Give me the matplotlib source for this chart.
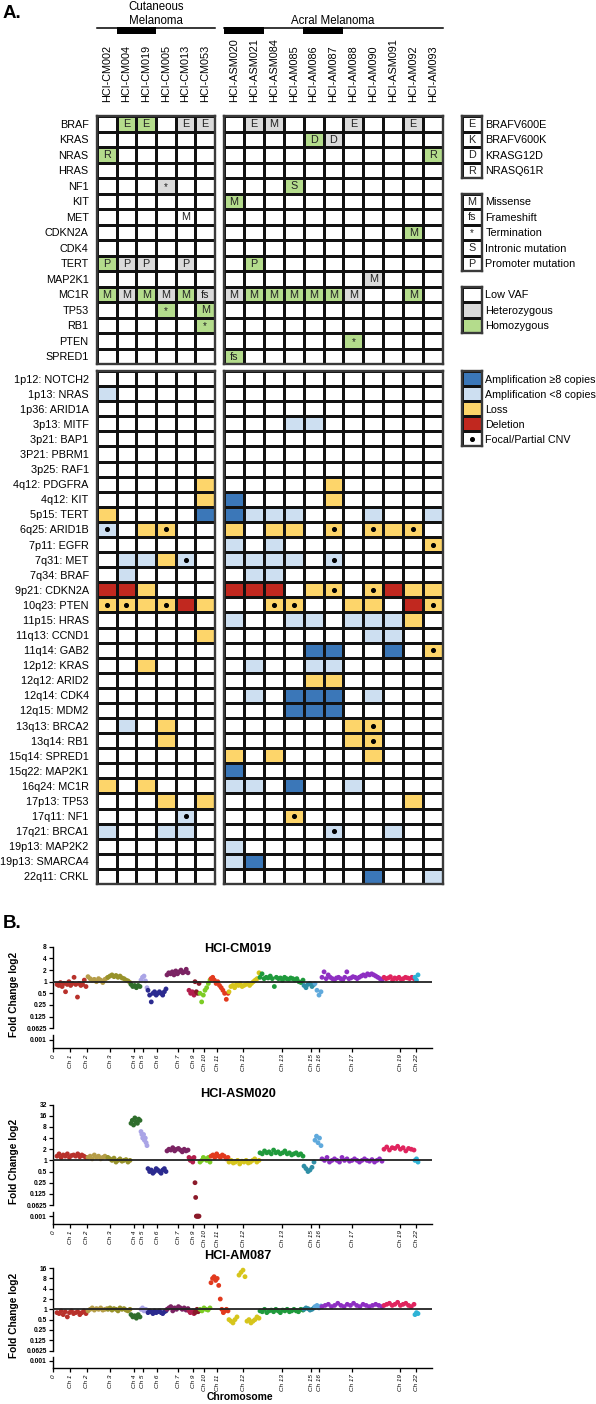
import numpy as np
import matplotlib
matplotlib.use("Agg")
import matplotlib.pyplot as plt
from matplotlib.colors import ListedColormap

plt.rcParams['font.family'] = ['Liberation Sans', 'DejaVu Sans']

# ---------------- data: panel A ----------------
samples_cut = ["HCI-CM002", "HCI-CM004", "HCI-CM019", "HCI-CM005", "HCI-CM013", "HCI-CM053"]
samples_acral = ["HCI-ASM020", "HCI-ASM021", "HCI-ASM084", "HCI-AM085", "HCI-AM086", "HCI-AM087",
                 "HCI-AM088", "HCI-AM090", "HCI-ASM091", "HCI-AM092", "HCI-AM093"]

genes = ["BRAF", "KRAS", "NRAS", "HRAS", "NF1", "KIT", "MET", "CDKN2A", "CDK4", "TERT",
         "MAP2K1", "MC1R", "TP53", "RB1", "PTEN", "SPRED1"]

# mutation letter per gene (rows) and sample (17 columns: 6 cutaneous + 11 acral); '.' = none
mut_letters = [
    ". E E . E E  . E M . . . E . . E .",
    ". . . . . .  . . . . D D . . . . .",
    "R . . . . .  . . . . . . . . . . R",
    ". . . . . .  . . . . . . . . . . .",
    ". . . * . .  . . . S . . . . . . .",
    ". . . . . .  M . . . . . . . . . .",
    ". . . . M .  . . . . . . . . . . .",
    ". . . . . .  . . . . . . . . . M .",
    ". . . . . .  . . . . . . . . . . .",
    "P P P . P .  . P . . . . . . . . .",
    ". . . . . .  . . . . . . . M . . .",
    "M M M M M fs M M M M M M M . . M .",
    ". . . * . M  . . . . . . . . . . .",
    ". . . . . *  . . . . . . . . . . .",
    ". . . . . .  . . . . . . * . . . .",
    ". . . . . .  fs . . . . . . . . . .",
]
# zygosity: 0 = low VAF (white), 1 = heterozygous, 2 = homozygous
mut_zygosity = [
    "0 2 2 0 1 1  0 1 1 0 0 0 1 0 0 1 0",
    "0 0 0 0 0 0  0 0 0 0 2 1 0 0 0 0 0",
    "2 0 0 0 0 0  0 0 0 0 0 0 0 0 0 0 2",
    "0 0 0 0 0 0  0 0 0 0 0 0 0 0 0 0 0",
    "0 0 0 1 0 0  0 0 0 2 0 0 0 0 0 0 0",
    "0 0 0 0 0 0  2 0 0 0 0 0 0 0 0 0 0",
    "0 0 0 0 0 0  0 0 0 0 0 0 0 0 0 0 0",
    "0 0 0 0 0 0  0 0 0 0 0 0 0 0 0 2 0",
    "0 0 0 0 0 0  0 0 0 0 0 0 0 0 0 0 0",
    "2 1 1 0 1 0  0 2 0 0 0 0 0 0 0 0 0",
    "0 0 0 0 0 0  0 0 0 0 0 0 0 1 0 0 0",
    "2 1 2 1 2 1  1 2 2 2 2 2 1 0 0 2 0",
    "0 0 0 2 0 2  0 0 0 0 0 0 0 0 0 0 0",
    "0 0 0 0 0 2  0 0 0 0 0 0 0 0 0 0 0",
    "0 0 0 0 0 0  0 0 0 0 0 0 2 0 0 0 0",
    "0 0 0 0 0 0  2 0 0 0 0 0 0 0 0 0 0",
]

cnv_regions = ["1p12: NOTCH2", "1p13: NRAS", "1p36: ARID1A", "3p13: MITF", "3p21: BAP1", "3P21: PBRM1",
               "3p25: RAF1", "4q12: PDGFRA", "4q12: KIT", "5p15: TERT", "6q25: ARID1B", "7p11: EGFR",
               "7q31: MET", "7q34: BRAF", "9p21: CDKN2A", "10q23: PTEN", "11p15: HRAS", "11q13: CCND1",
               "11q14: GAB2", "12p12: KRAS", "12q12: ARID2", "12q14: CDK4", "12q15: MDM2", "13q13: BRCA2",
               "13q14: RB1", "15q14: SPRED1", "15q22: MAP2K1", "16q24: MC1R", "17p13: TP53", "17q11: NF1",
               "17q21: BRCA1", "19p13: MAP2K2", "19p13: SMARCA4", "22q11: CRKL"]
# A = amplification >=8 copies, a = amplification <8, L = loss, D = deletion, * = focal/partial
cnv_calls = [
    ". . . . . .        . . . . . . . . . . .",
    "a . . . . .        . . . . . . . . . . .",
    ". . . . . .        . . . . . . . . . . .",
    ". . . . . .        . . . a a . . . . . .",
    ". . . . . .        . . . . . . . . . . .",
    ". . . . . .        . . . . . . . . . . .",
    ". . . . . .        . . . . . . . . . . .",
    ". . . . . L        . . . . . L . . . . .",
    ". . . . . L        A . . . . L . . . . .",
    "L . . . . A        A a a a . . . a . . a",
    "a* . L L* . .      L . L L . L* . L* L L* .",
    ". . . . . .        a . a . . . . . . . L*",
    ". a a L a* .       a a a a . a* . . . . .",
    ". a . . . .        . a a . . . . . . . .",
    "D D L . . .        D D D . L L* . L* D L L",
    "L* L* L L* D L     . . L* L* . . L L . D L*",
    ". . . . . .        a . . a a . a a a L .",
    ". . . . . L        . . . . . . . a a . .",
    ". . . . . .        . . . . A A . . A . L*",
    ". . L . . .        . a . . a a . . . . .",
    ". . . . . .        . . . . L L . . . . .",
    ". . . . . .        . a . A A A . a . . .",
    ". . . . . .        . . . A A A . . . . .",
    ". a . L . .        . . . . . . L L* . . .",
    ". . . L . .        . . . . . . L L* . . .",
    ". . . . . .        L . L . . . . L . . .",
    ". . . . . .        A . . . . . . . . . .",
    "L . L . . .        a a . A . . a . . . .",
    ". . . L . L        . . . . . . . . . L .",
    ". . . . a* .       . . . L* . . . . . . .",
    "a . . a a .        . . . . . a* . . a . .",
    ". . . . . .        a . . . . . . . . . .",
    ". . . . . .        a A . . . . . . . . .",
    ". . . . . .        . . . . . . . A . . a",
]

legend_variants = [("E", "BRAFV600E"), ("K", "BRAFV600K"), ("D", "KRASG12D"), ("R", "NRASQ61R")]
legend_types = [("M", "Missense"), ("fs", "Frameshift"), ("*", "Termination"),
                ("S", "Intronic mutation"), ("P", "Promoter mutation")]
legend_zyg = ["Low VAF", "Heterozygous", "Homozygous"]
legend_cnv = ["Amplification \u22658 copies", "Amplification <8 copies", "Loss", "Deletion", "Focal/Partial CNV"]

# ---------------- data: panel B ----------------
chrom_names = ["1", "2", "3", "4", "5", "6", "7", "8", "9", "10", "11", "12", "13", "15", "16", "17", "19", "22"]
chrom_tick_labels = ["0", "Ch 1", "Ch 2", "Ch 3", "Ch 4", "Ch 5", "Ch 6", "Ch 7", "Ch 9", "Ch 10", "Ch 11",
                     "Ch 12", "Ch 13", "Ch 15", "Ch 16", "Ch 17", "Ch 19", "Ch 22"]
fold_ticks = [32, 16, 8, 4, 2, 1, 0.5, 0.25, 0.125, 0.0625, 0.001]

cm019_fc = [
    [0.85, 0.8, 0.95, 0.75, 0.9, 0.55, 0.85, 1.0, 0.8, 0.9, 1.3, 0.85, 0.4, 0.9, 0.8, 0.85, 1.1, 0.75],
    [1.35, 1.2, 1.1, 1.15, 1.0, 1.2, 1.1, 0.95, 1.15, 1.25],
    [1.3, 1.4, 1.5, 1.35, 1.45, 1.3, 1.4, 1.25, 1.2, 1.1, 1.05, 0.95],
    [0.85, 0.75, 0.8, 0.7, 0.8, 0.75],
    [1.1, 1.3, 1.4, 1.05, 0.7],
    [0.6, 0.45, 0.3, 0.5, 0.55, 0.45, 0.5, 0.55, 0.5, 0.45, 0.55, 0.65],
    [1.5, 1.7, 1.6, 1.8, 1.5, 1.9, 1.6, 1.8, 2.0, 1.7, 1.8, 2.1, 1.7],
    [0.6, 0.5, 0.55, 0.45],
    [1.0, 0.55, 0.5, 0.9],
    [0.5, 0.3, 0.45, 0.6, 0.7, 0.9, 1.1],
    [1.2, 1.3, 1.1, 0.9, 1.0, 0.8, 0.7, 0.6, 0.5, 0.35, 0.5],
    [0.55, 0.75, 0.8, 0.7, 0.85, 0.8, 0.9, 0.75, 0.8, 0.85, 0.9, 0.8, 0.9, 1.0, 1.1, 1.2, 1.7],
    [1.3, 1.6, 1.2, 1.3, 1.25, 1.4, 1.2, 0.75, 1.3, 1.2, 1.25, 1.1, 1.3, 1.2, 1.15, 1.25, 1.2, 1.1, 1.2, 1.0, 0.95, 1.1],
    [0.8, 0.7, 0.85, 0.9, 0.75, 0.85],
    [0.9, 0.6, 0.45, 0.55],
    [1.3, 1.8, 1.2, 1.5, 1.3, 1.2, 1.1, 1.25, 1.3, 1.2, 1.1, 1.3, 1.8, 1.2, 1.25, 1.35, 1.3, 1.2, 1.3, 1.4,
     1.5, 1.4, 1.6, 1.5, 1.6, 1.5, 1.4, 1.3, 1.2, 1.1],
    [1.3, 1.2, 1.25, 1.35, 1.1, 1.25, 1.2, 1.3, 1.15, 1.2, 1.3, 1.25, 1.2, 1.3, 1.2],
    [1.3, 1.1, 1.5],
]
asm020_fc = [
    [1.3, 1.5, 1.2, 1.4, 1.3, 1.5, 1.2, 1.35, 1.4, 1.3, 1.5, 1.25, 1.4, 1.3, 1.2],
    [1.2, 1.3, 1.1, 1.4, 1.2, 1.3, 1.1, 1.2, 1.3, 1.2],
    [1.2, 1.1, 1.0, 1.15, 0.9, 1.0, 1.1, 0.95, 1.0, 1.05, 0.9, 1.0],
    [10, 12, 9, 14, 11, 10, 13, 12],
    [6, 5, 4, 5, 3.5, 4, 3, 2.5],
    [0.6, 0.5, 0.55, 0.45, 0.5, 0.6, 0.55, 0.5, 0.45, 0.55, 0.6, 0.5],
    [1.8, 2.0, 1.9, 2.2, 1.8, 2.0, 2.1, 1.9, 1.7, 2.0, 1.8, 1.9],
    [1.2, 1.0, 1.1, 0.9, 1.2],
    [0.25, 0.1, 0.001, 0.001, 0.001, 0.001, 0.001],
    [0.9, 1.0, 1.2, 1.1, 1.0, 1.2, 0.9],
    [1.3, 1.4, 1.2, 1.5, 1.3, 1.2, 1.4, 1.3, 1.1, 1.2],
    [0.9, 1.0, 0.85, 0.9, 1.0, 0.8, 0.95, 0.9, 1.0, 0.85, 0.9, 1.0, 1.1, 0.9, 1.0],
    [1.6, 1.5, 1.8, 1.6, 1.7, 1.5, 1.9, 1.6, 1.7, 1.5, 1.6, 1.8, 1.5, 1.6, 1.4, 1.5, 1.6, 1.4, 1.5, 1.3],
    [0.7, 0.6, 0.5, 0.55, 0.65, 0.9],
    [3.5, 4.5, 3.0, 4.0, 2.5],
    [1.1, 1.0, 1.2, 0.9, 1.0, 1.1, 1.0, 0.9, 1.2, 1.0, 1.1, 0.95, 1.0, 1.1, 1.0, 0.9, 1.0, 1.1, 1.0, 0.95,
     1.05, 0.9, 1.0, 1.1, 0.95],
    [2.0, 2.3, 1.9, 2.2, 2.1, 2.4, 2.0, 2.2, 1.8, 2.1, 2.0, 1.9],
    [1.0, 1.1, 0.9],
]
am087_fc = [
    [0.8, 0.75, 0.9, 0.7, 0.85, 0.6, 0.8, 0.9, 0.75, 0.8, 0.85, 0.7, 0.8, 0.9, 0.75],
    [0.9, 1.0, 1.1, 0.95, 1.05, 1.0, 1.1, 0.95, 1.0, 1.05],
    [1.0, 1.1, 0.95, 1.05, 1.0, 0.9, 1.1, 1.0, 1.05, 0.95, 0.9, 1.0],
    [0.7, 0.6, 0.65, 0.55, 0.7, 0.6],
    [1.0, 1.1, 0.9, 1.0, 0.95],
    [0.8, 0.9, 0.85, 0.75, 0.9, 0.8, 0.85, 0.9, 0.8, 0.75, 0.85, 0.9],
    [1.0, 1.1, 1.2, 0.9, 1.1, 1.0, 1.2, 1.1, 1.0, 1.1, 0.95, 1.05],
    [0.9, 0.8, 0.85, 0.9, 0.75],
    [0.8, 0.9, 1.0, 0.85, 0.9],
    [1.0, 0.9, 1.1, 1.0, 0.95, 1.1],
    [6, 8, 9, 7, 8, 5, 2, 1.0, 0.8, 0.9, 1.0, 0.9],
    [0.5, 0.45, 0.4, 0.5, 0.6, 10, 12, 14, 9, 0.45, 0.5, 0.4, 0.45, 0.5, 0.6, 0.55],
    [0.9, 0.85, 1.0, 0.8, 0.9, 0.95, 0.85, 1.0, 0.9, 0.8, 0.95, 0.9, 1.0, 0.85, 0.9, 1.0, 0.9, 0.85, 1.0, 0.95],
    [1.0, 1.1, 1.05, 0.95, 1.0, 1.1],
    [1.2, 1.3, 1.1, 1.25],
    [1.2, 1.3, 1.4, 1.2, 1.3, 1.5, 1.3, 1.2, 1.4, 1.3, 1.5, 1.3, 1.2, 1.4, 1.3, 1.2, 1.3, 1.4, 1.3, 1.2],
    [1.3, 1.4, 1.5, 1.3, 1.4, 1.6, 1.3, 1.4, 1.5, 1.3, 1.2, 1.4],
    [0.7, 0.8, 0.75],
]

# ---------------- styles / layout ----------------
W, H = 596, 1404
GREEN, GRAY = "#b4dc8c", "#dadada"
DBLUE, LBLUE, YELLOW, RED = "#3b77b8", "#cddff1", "#fdd56a", "#c1281f"
chrom_colors = ["#b8312b", "#b59d48", "#97922a", "#2f6e2c", "#aaa4e6", "#2b2a8f", "#7b2363", "#b21e4d",
                "#8b1a2a", "#7ccc24", "#e23a1e", "#d6c51c", "#1f9a3c", "#2f8fa6", "#5fa9dc", "#8e2fc2",
                "#e0245e", "#2fb3d6"]
chrom_span = [(4, 33), (35, 54), (55, 77), (78, 87), (88, 94), (95, 113), (114, 135), (136, 141), (142, 146),
              (147, 157), (158, 175), (176, 206), (207, 250), (251, 261), (262, 268), (269, 329), (331, 361),
              (362, 365)]
chrom_tick_pos = [0, 17, 34, 57, 81, 90, 104, 125, 140, 151, 164, 190, 229, 258, 266, 299, 347, 363]

fig = plt.figure(figsize=(W / 100, H / 100), dpi=100)


def px_axes(x0, y0, x1, y1):
    return fig.add_axes([x0 / W, 1 - y1 / H, (x1 - x0) / W, (y1 - y0) / H])


ov = px_axes(0, 0, W, H)
ov.set_xlim(0, W)
ov.set_ylim(H, 0)
ov.axis('off')

FS = 7.8


def grid(ax, values, colors, letters=None, dots=None):
    nr, nc = values.shape
    cmap = ListedColormap(colors)
    ax.pcolormesh(np.arange(nc + 1), np.arange(nr + 1), values, cmap=cmap, vmin=-0.5,
                  vmax=len(colors) - 0.5, edgecolors='#111111', linewidth=0.9)
    ax.set_xlim(0, nc)
    ax.set_ylim(nr, 0)
    for s in ax.spines.values():
        s.set_linewidth(1.7)
        s.set_color('#3a3a3a')
    ax.set_xticks([])
    ax.set_yticks([])
    ax.tick_params(length=0)
    if letters is not None:
        for r in range(nr):
            for c in range(nc):
                if letters[r][c] != '.':
                    t = letters[r][c]
                    ax.text(c + 0.5, r + 0.52 + (0.05 if t == '*' else 0), t, ha='center', va='center',
                            fontsize=FS if t != '*' else 7.0, color='#222222')
    if dots is not None:
        rr, cc = np.nonzero(dots)
        ax.scatter(cc + 0.5, rr + 0.5, s=7, color='black', zorder=3)


# parse panel A matrices
mut_let = [row.split() for row in mut_letters]
mut_z = np.array([[int(v) for v in row.split()] for row in mut_zygosity])
cnv_tok = [row.split() for row in cnv_calls]
code_map = {'.': 0, 'a': 1, 'A': 2, 'L': 3, 'D': 4}
cnv_val = np.array([[code_map[t[0]] for t in row] for row in cnv_tok])
cnv_dot = np.array([[t.endswith('*') for t in row] for row in cnv_tok])

nc_cut = len(samples_cut)
mut_colors = ["white", GRAY, GREEN]
cnv_colors = ["white", LBLUE, DBLUE, YELLOW, RED]

X_CUT = (97, 215)
X_AC = (224, 443)
Y_MUT = (116, 364)
Y_CNV = (371, 884)

for (x0, x1), sl, names in [(X_CUT, slice(0, nc_cut), samples_cut), (X_AC, slice(nc_cut, None), samples_acral)]:
    am = px_axes(x0, Y_MUT[0], x1, Y_MUT[1])
    grid(am, mut_z[:, sl], mut_colors, letters=[r[sl] for r in mut_let])
    am.xaxis.tick_top()
    am.set_xticks(np.arange(len(names)) + 0.5)
    am.set_xticklabels(names, rotation=90, fontsize=FS)
    am.tick_params(axis='x', length=0, pad=10)
    ac = px_axes(x0, Y_CNV[0], x1, Y_CNV[1])
    grid(ac, cnv_val[:, sl], cnv_colors, dots=cnv_dot[:, sl])
    if names is samples_cut:
        am.set_yticks(np.arange(len(genes)) + 0.5)
        am.set_yticklabels(genes, fontsize=FS)
        am.tick_params(axis='y', length=0, pad=6)
        ac.set_yticks(np.arange(len(cnv_regions)) + 0.5)
        ac.set_yticklabels(cnv_regions, fontsize=FS)
        ac.tick_params(axis='y', length=0, pad=6)

# legends
ROW = (Y_MUT[1] - Y_MUT[0]) / len(genes)


def legend_box(y0, nrows, colors_idx, colors, letters, labels, dots=None):
    ax = px_axes(462, y0, 482, y0 + nrows * ROW)
    vals = np.array(colors_idx).reshape(-1, 1)
    grid(ax, vals, colors, letters=[[l] for l in letters] if letters else None,
         dots=np.array(dots).reshape(-1, 1) if dots else None)
    ax.yaxis.tick_right()
    ax.set_yticks(np.arange(nrows) + 0.5)
    ax.set_yticklabels(labels, fontsize=FS)
    ax.tick_params(axis='y', length=0, pad=2.5)


legend_box(Y_MUT[0], 4, [0] * 4, ["white"], [v[0] for v in legend_variants], [v[1] for v in legend_variants])
legend_box(Y_MUT[0] + 5 * ROW, 5, [0] * 5, ["white"], [v[0] for v in legend_types], [v[1] for v in legend_types])
legend_box(Y_MUT[0] + 11 * ROW, 3, [0, 1, 2], mut_colors, None, legend_zyg)
ROWC = (Y_CNV[1] - Y_CNV[0]) / len(cnv_regions)
axl = px_axes(462, Y_CNV[0], 482, Y_CNV[0] + 5 * ROWC)
grid(axl, np.array([2, 1, 3, 4, 0]).reshape(-1, 1), cnv_colors,
     dots=np.array([0, 0, 0, 0, 1]).reshape(-1, 1))
axl.yaxis.tick_right()
axl.set_yticks(np.arange(5) + 0.5)
axl.set_yticklabels(legend_cnv, fontsize=7.7)
axl.tick_params(axis='y', length=0, pad=2.5)

# headers
ov.text(3, 14, "A.", fontsize=13.5, fontweight='bold', va='center', ha='left')
ov.text(3, 924, "B.", fontsize=13.5, fontweight='bold', va='center', ha='left')
ov.text(156, 7, "Cutaneous", fontsize=8.3, ha='center', va='center')
ov.text(156, 20.5, "Melanoma", fontsize=8.3, ha='center', va='center')
ov.text(333, 20.5, "Acral Melanoma", fontsize=8.3, ha='center', va='center')
ov.plot([97, 215], [27.5, 27.5], color='black', lw=1.1)
ov.plot([224, 443], [27.5, 27.5], color='black', lw=1.1)
for xa, xb in [(117, 156), (224, 264), (303, 343)]:
    ov.fill_between([xa, xb], 27, 33.5, color='black', lw=0)


# ---------------- panel B ----------------
def yt(v):
    v = np.asarray(v, float)
    return np.where(v < 0.04, -5 + np.log2(v / 0.001) * 0.25, np.log2(np.maximum(v, 1e-9)))


def cnv_panel(y0, y1, ytop, top_tick, fc, title, title_y):
    ax = px_axes(53, y0, 432, y1)
    for (xa, xb), col, vals in zip(chrom_span, chrom_colors, fc):
        xs = np.linspace(xa, xb, len(vals))
        ax.scatter(xs, yt(vals), s=12, color=col, edgecolors='none', zorder=2)
    ax.axhline(0, color='#222222', lw=1.3, zorder=3)
    ax.set_xlim(0, 379)
    ax.set_ylim(-5.7, ytop)
    ticks = [t for t in fold_ticks if t <= top_tick]
    ax.set_yticks(yt(ticks))
    ax.set_yticklabels([f"{t:g}" for t in ticks], fontsize=4.8, fontweight='bold')
    ax.set_xticks(chrom_tick_pos)
    ax.set_xticklabels(chrom_tick_labels, rotation=90, fontsize=4.6, style='italic')
    ax.tick_params(axis='both', length=3, width=0.9, pad=1.5)
    for s in ['left', 'top', 'right']:
        ax.spines[s].set_visible(False)
    ax.spines['bottom'].set_linewidth(1.0)
    tr = ax.get_yaxis_transform()
    ax.plot([0, 0], [yt(top_tick), -4], color='black', lw=1.0, transform=tr, clip_on=False)
    ax.plot([0, 0], [-4.6, -5.7], color='black', lw=1.0, transform=tr, clip_on=False)
    ax.patch.set_alpha(0)
    fig.text(238 / W, 1 - title_y / H, title, fontsize=9.2, fontweight='bold', ha='center', va='center')
    fig.text(14 / W, 1 - ((y0 + y1) / 2) / H, "Fold Change log2", rotation=90, fontsize=7.3,
             fontweight='bold', ha='center', va='center')
    return ax


cnv_panel(941, 1048, 3.5, 8, cm019_fc, "HCI-CM019", 949)
cnv_panel(1099, 1224, 5.5, 32, asm020_fc, "HCI-ASM020", 1094)
cnv_panel(1263, 1368, 4.5, 16, am087_fc, "HCI-AM087", 1256)
fig.text(240 / W, 1 - 1397 / H, "Chromosome", fontsize=7.5, fontweight='bold', ha='center', va='center')

fig.savefig("out.png", dpi=100)
